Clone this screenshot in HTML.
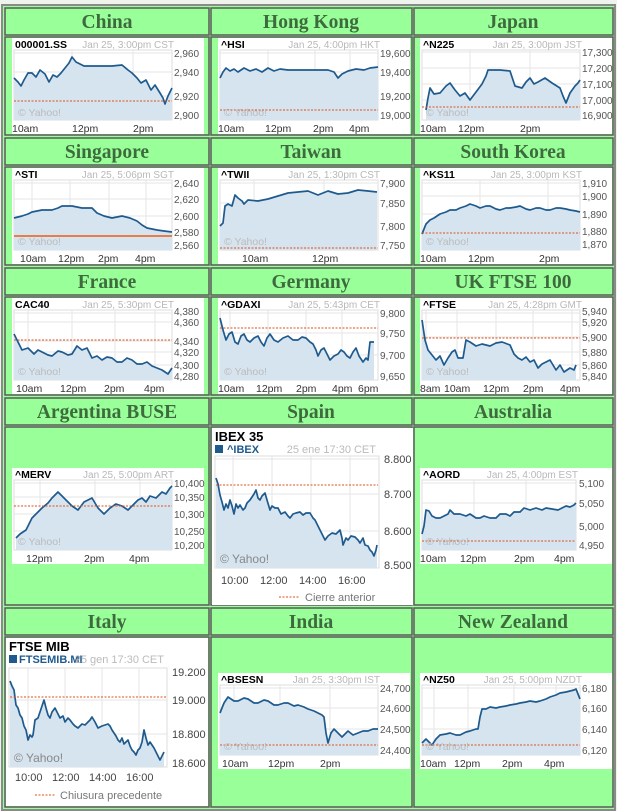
<!DOCTYPE html>
<html><head><meta charset="utf-8"><style>
html,body{margin:0;padding:0;background:#eef3ec;}
svg{display:block}
.t{font:bold 19.5px "Liberation Serif",serif;fill:#3e6b3e;text-anchor:middle}
.tk{font:bold 10.5px "Liberation Sans",sans-serif;fill:#000}
.dt{font:10px "Liberation Sans",sans-serif;fill:#b8b8b8;text-anchor:end}
.yl{font:10px "Liberation Sans",sans-serif;fill:#555}
.xl{font:10.5px "Liberation Sans",sans-serif;fill:#333}
.yh{font:10.5px "Liberation Sans",sans-serif;fill:#bbb}
.ln{fill:none;stroke:#1e5a8e;stroke-width:1.7;stroke-linejoin:round}
.ar{fill:#d6e4ef}
.gr{stroke:#e6e6e6;stroke-width:1}
.pc{stroke:#e0501a;stroke-width:1;stroke-dasharray:2,1.5}
.pcs{stroke:#f05a14;stroke-width:1.5}
</style></head><body>
<svg width="617" height="811" viewBox="0 0 617 811" xmlns="http://www.w3.org/2000/svg">
<rect x="2" y="5" width="613" height="805" fill="#99ff99" stroke="#8a8a8a" stroke-width="2"/>
<g fill="#99ff99" stroke="#5a5a5a" stroke-width="1.5">
<rect x="5" y="8" width="204" height="27"/><rect x="211" y="8" width="201" height="27"/><rect x="414" y="8" width="199" height="27"/>
<rect x="5" y="37" width="204" height="98"/><rect x="211" y="37" width="201" height="98"/><rect x="414" y="37" width="199" height="98"/>
<rect x="5" y="138" width="204" height="27"/><rect x="211" y="138" width="201" height="27"/><rect x="414" y="138" width="199" height="27"/>
<rect x="5" y="167" width="204" height="98"/><rect x="211" y="167" width="201" height="98"/><rect x="414" y="167" width="199" height="98"/>
<rect x="5" y="268" width="204" height="27"/><rect x="211" y="268" width="201" height="27"/><rect x="414" y="268" width="199" height="27"/>
<rect x="5" y="297" width="204" height="98"/><rect x="211" y="297" width="201" height="98"/><rect x="414" y="297" width="199" height="98"/>
<rect x="5" y="398" width="204" height="27"/><rect x="211" y="398" width="201" height="27"/><rect x="414" y="398" width="199" height="27"/>
<rect x="5" y="427" width="204" height="178"/><rect x="211" y="427" width="201" height="178"/><rect x="414" y="427" width="199" height="178"/>
<rect x="5" y="608" width="204" height="27"/><rect x="211" y="608" width="201" height="27"/><rect x="414" y="608" width="199" height="27"/>
<rect x="5" y="637" width="204" height="170"/><rect x="211" y="637" width="201" height="170"/><rect x="414" y="637" width="199" height="170"/>
</g>
<text class="t" x="107" y="28">China</text><text class="t" x="311" y="28">Hong Kong</text><text class="t" x="513" y="28">Japan</text>
<text class="t" x="107" y="158">Singapore</text><text class="t" x="311" y="158">Taiwan</text><text class="t" x="513" y="158">South Korea</text>
<text class="t" x="107" y="288">France</text><text class="t" x="311" y="288">Germany</text><text class="t" x="513" y="288">UK FTSE 100</text>
<text class="t" x="107" y="418">Argentina BUSE</text><text class="t" x="311" y="418">Spain</text><text class="t" x="513" y="418">Australia</text>
<text class="t" x="107" y="628">Italy</text><text class="t" x="311" y="628">India</text><text class="t" x="513" y="628">New Zealand</text>

<!-- China -->
<g transform="translate(12,38)">
<rect width="192" height="96" fill="#fff"/>
<rect x="2" y="12" width="158" height="70" fill="#fff" stroke="#ddd"/>
<line class="gr" x1="2" x2="160" y1="15" y2="15"/><line class="gr" x1="2" x2="160" y1="34" y2="34"/><line class="gr" x1="2" x2="160" y1="58" y2="58"/>
<line class="gr" x1="60" x2="60" y1="12" y2="82"/><line class="gr" x1="121" x2="121" y1="12" y2="82"/>
<polygon class="ar" points="2,40 6,44 9,48 12,42 16,35 20,35 24,39 28,32 33,36 37,44 41,37 45,39 49,35 53,30 57,25 60,19 64,24 66,25 72,28 100,28 110,27 116,32 120,35 125,40 129,45 134,42 139,52 143,47 148,55 151,60 153,66 156,58 160,50 160,82 2,82"/>
<polyline class="ln" points="2,40 6,44 9,48 12,42 16,35 20,35 24,39 28,32 33,36 37,44 41,37 45,39 49,35 53,30 57,25 60,19 64,24 66,25 72,28 100,28 110,27 116,32 120,35 125,40 129,45 134,42 139,52 143,47 148,55 151,60 153,66 156,58 160,50"/>
<line class="pc" x1="2" x2="160" y1="63" y2="63"/>
<text class="yh" x="6" y="78">© Yahoo!</text>
<text class="tk" x="3" y="10">000001.SS</text><text class="dt" x="162" y="10">Jan 25, 3:00pm CST</text>
<text class="yl" x="162" y="19">2,960</text><text class="yl" x="162" y="38">2,940</text><text class="yl" x="162" y="62">2,920</text><text class="yl" x="162" y="81">2,900</text>
<text class="xl" x="0" y="94">10am</text><text class="xl" x="60" y="94">12pm</text><text class="xl" x="121" y="94">2pm</text>
</g>

<!-- Hong Kong -->
<g transform="translate(218,38)">
<rect width="192" height="96" fill="#fff"/>
<rect x="2" y="12" width="158" height="70" fill="#fff" stroke="#ddd"/>
<line class="gr" x1="2" x2="160" y1="15" y2="15"/><line class="gr" x1="2" x2="160" y1="34" y2="34"/><line class="gr" x1="2" x2="160" y1="58" y2="58"/>
<line class="gr" x1="50" x2="50" y1="12" y2="82"/><line class="gr" x1="97" x2="97" y1="12" y2="82"/><line class="gr" x1="132" x2="132" y1="12" y2="82"/>
<polygon class="ar" points="2,40 5,34 8,30 12,33 16,31 20,34 26,30 32,33 38,31 44,34 50,30 56,33 62,31 70,32 110,32 116,34 120,40 124,36 130,33 138,31 146,32 152,30 160,29 160,82 2,82"/>
<polyline class="ln" points="2,40 5,34 8,30 12,33 16,31 20,34 26,30 32,33 38,31 44,34 50,30 56,33 62,31 70,32 110,32 116,34 120,40 124,36 130,33 138,31 146,32 152,30 160,29"/>
<line class="pc" x1="2" x2="160" y1="72" y2="72"/>
<text class="yh" x="6" y="78">© Yahoo!</text>
<text class="tk" x="3" y="10">^HSI</text><text class="dt" x="162" y="10">Jan 25, 4:00pm HKT</text>
<text class="yl" x="162" y="19">19,600</text><text class="yl" x="162" y="38">19,400</text><text class="yl" x="162" y="62">19,200</text><text class="yl" x="162" y="81">19,000</text>
<text class="xl" x="0" y="94">10am</text><text class="xl" x="47" y="94">12pm</text><text class="xl" x="95" y="94">2pm</text><text class="xl" x="131" y="94">4pm</text>
</g>

<!-- Japan -->
<g transform="translate(420,38)">
<rect width="192" height="96" fill="#fff"/>
<rect x="2" y="12" width="158" height="70" fill="#fff" stroke="#ddd"/>
<line class="gr" x1="2" x2="160" y1="14" y2="14"/><line class="gr" x1="2" x2="160" y1="30" y2="30"/><line class="gr" x1="2" x2="160" y1="46" y2="46"/><line class="gr" x1="2" x2="160" y1="62" y2="62"/>
<line class="gr" x1="50" x2="50" y1="12" y2="82"/><line class="gr" x1="110" x2="110" y1="12" y2="82"/>
<polygon class="ar" points="6,72 8,60 10,50 14,56 20,55 26,48 30,45 35,52 40,58 45,55 50,62 56,54 62,46 66,38 68,32 80,32 90,33 95,48 102,50 106,44 110,40 114,46 118,44 125,40 132,45 140,50 143,58 146,65 150,55 155,48 158,45 160,42 160,82 6,82"/>
<polyline class="ln" points="6,72 8,60 10,50 14,56 20,55 26,48 30,45 35,52 40,58 45,55 50,62 56,54 62,46 66,38 68,32 80,32 90,33 95,48 102,50 106,44 110,40 114,46 118,44 125,40 132,45 140,50 143,58 146,65 150,55 155,48 158,45 160,42"/>
<line class="pc" x1="2" x2="160" y1="69" y2="69"/>
<text class="yh" x="6" y="78">© Yahoo!</text>
<text class="tk" x="3" y="10">^N225</text><text class="dt" x="162" y="10">Jan 25, 3:00pm JST</text>
<text class="yl" x="162" y="18">17,300</text><text class="yl" x="162" y="34">17,200</text><text class="yl" x="162" y="50">17,100</text><text class="yl" x="162" y="66">17,000</text><text class="yl" x="162" y="81">16,900</text>
<text class="xl" x="0" y="94">10am</text><text class="xl" x="38" y="94">12pm</text><text class="xl" x="100" y="94">2pm</text>
</g>

<!-- Singapore -->
<g transform="translate(12,168)">
<rect width="192" height="96" fill="#fff"/>
<rect x="2" y="12" width="158" height="70" fill="#fff" stroke="#ddd"/>
<line class="gr" x1="2" x2="160" y1="15" y2="15"/><line class="gr" x1="2" x2="160" y1="31" y2="31"/><line class="gr" x1="2" x2="160" y1="48" y2="48"/><line class="gr" x1="2" x2="160" y1="64" y2="64"/>
<line class="gr" x1="20" x2="20" y1="12" y2="82"/><line class="gr" x1="58" x2="58" y1="12" y2="82"/><line class="gr" x1="97" x2="97" y1="12" y2="82"/><line class="gr" x1="134" x2="134" y1="12" y2="82"/>
<polygon class="ar" points="2,50 10,48 16,46 20,44 30,42 40,42 46,40 50,38 60,38 70,40 80,40 85,45 92,48 100,50 110,48 118,50 125,53 130,57 135,60 145,62 152,63 160,64 160,82 2,82"/>
<polyline class="ln" points="2,50 10,48 16,46 20,44 30,42 40,42 46,40 50,38 60,38 70,40 80,40 85,45 92,48 100,50 110,48 118,50 125,53 130,57 135,60 145,62 152,63 160,64"/>
<line class="pcs" x1="2" x2="160" y1="68" y2="68"/>
<text class="yh" x="6" y="77">© Yahoo!</text>
<text class="tk" x="3" y="10">^STI</text><text class="dt" x="162" y="10">Jan 25, 5:06pm SGT</text>
<text class="yl" x="162" y="19">2,640</text><text class="yl" x="162" y="35">2,620</text><text class="yl" x="162" y="52">2,600</text><text class="yl" x="162" y="68">2,580</text><text class="yl" x="162" y="81">2,560</text>
<text class="xl" x="8" y="94">10am</text><text class="xl" x="46" y="94">12pm</text><text class="xl" x="86" y="94">2pm</text><text class="xl" x="123" y="94">4pm</text>
</g>

<!-- Taiwan -->
<g transform="translate(218,168)">
<rect width="192" height="96" fill="#fff"/>
<rect x="2" y="12" width="158" height="70" fill="#fff" stroke="#ddd"/>
<line class="gr" x1="2" x2="160" y1="15" y2="15"/><line class="gr" x1="2" x2="160" y1="35" y2="35"/><line class="gr" x1="2" x2="160" y1="58" y2="58"/>
<line class="gr" x1="36" x2="36" y1="12" y2="82"/><line class="gr" x1="106" x2="106" y1="12" y2="82"/>
<polygon class="ar" points="2,58 5,55 7,38 10,36 14,38 17,27 20,30 24,33 26,36 30,32 40,33 50,31 60,28 70,25 80,24 90,23 100,27 110,23 120,26 130,25 140,22 150,23 159,24 159,82 2,82"/>
<polyline class="ln" points="2,58 5,55 7,38 10,36 14,38 17,27 20,30 24,33 26,36 30,32 40,33 50,31 60,28 70,25 80,24 90,23 100,27 110,23 120,26 130,25 140,22 150,23 159,24"/>
<line class="pc" x1="2" x2="160" y1="80" y2="80"/>
<text class="yh" x="6" y="77">© Yahoo!</text>
<text class="tk" x="3" y="10">^TWII</text><text class="dt" x="162" y="10">Jan 25, 1:30pm CST</text>
<text class="yl" x="162" y="19">7,900</text><text class="yl" x="162" y="39">7,850</text><text class="yl" x="162" y="62">7,800</text><text class="yl" x="162" y="81">7,750</text>
<text class="xl" x="24" y="94">10am</text><text class="xl" x="94" y="94">12pm</text>
</g>

<!-- South Korea -->
<g transform="translate(420,168)">
<rect width="192" height="96" fill="#fff"/>
<rect x="2" y="12" width="158" height="70" fill="#fff" stroke="#ddd"/>
<line class="gr" x1="2" x2="160" y1="15" y2="15"/><line class="gr" x1="2" x2="160" y1="28" y2="28"/><line class="gr" x1="2" x2="160" y1="46" y2="46"/><line class="gr" x1="2" x2="160" y1="63" y2="63"/>
<line class="gr" x1="60" x2="60" y1="12" y2="82"/><line class="gr" x1="128" x2="128" y1="12" y2="82"/>
<polygon class="ar" points="2,66 6,56 10,52 14,50 20,46 26,44 30,42 36,42 40,40 46,38 50,36 56,38 60,40 66,38 70,38 76,41 80,42 86,40 90,40 96,39 100,38 106,41 110,42 116,40 120,40 126,42 130,42 136,40 140,40 146,41 150,42 156,43 160,44 160,82 2,82"/>
<polyline class="ln" points="2,66 6,56 10,52 14,50 20,46 26,44 30,42 36,42 40,40 46,38 50,36 56,38 60,40 66,38 70,38 76,41 80,42 86,40 90,40 96,39 100,38 106,41 110,42 116,40 120,40 126,42 130,42 136,40 140,40 146,41 150,42 156,43 160,44"/>
<line class="pc" x1="2" x2="160" y1="65" y2="65"/>
<text class="yh" x="6" y="77">© Yahoo!</text>
<text class="tk" x="3" y="10">^KS11</text><text class="dt" x="162" y="10">Jan 25, 3:00pm KST</text>
<text class="yl" x="162" y="19">1,910</text><text class="yl" x="162" y="32">1,900</text><text class="yl" x="162" y="50">1,890</text><text class="yl" x="162" y="67">1,880</text><text class="yl" x="162" y="80">1,870</text>
<text class="xl" x="0" y="94">10am</text><text class="xl" x="48" y="94">12pm</text><text class="xl" x="119" y="94">2pm</text>
</g>

<!-- France -->
<g transform="translate(12,298)">
<rect width="192" height="96" fill="#fff"/>
<rect x="2" y="12" width="158" height="70" fill="#fff" stroke="#ddd"/>
<line class="gr" x1="2" x2="160" y1="15" y2="15"/><line class="gr" x1="2" x2="160" y1="24" y2="24"/><line class="gr" x1="2" x2="160" y1="43" y2="43"/><line class="gr" x1="2" x2="160" y1="54" y2="54"/><line class="gr" x1="2" x2="160" y1="67" y2="67"/>
<line class="gr" x1="16" x2="16" y1="12" y2="82"/><line class="gr" x1="60" x2="60" y1="12" y2="82"/><line class="gr" x1="103" x2="103" y1="12" y2="82"/><line class="gr" x1="143" x2="143" y1="12" y2="82"/>
<polygon class="ar" points="2,36 6,44 10,52 16,50 22,56 26,52 30,54 36,57 40,58 46,53 50,54 56,57 60,56 65,48 70,52 75,50 80,60 85,58 90,62 95,59 100,60 105,64 110,64 115,60 120,62 125,66 130,66 135,64 140,68 145,70 150,72 156,76 160,70 160,82 2,82"/>
<polyline class="ln" points="2,36 6,44 10,52 16,50 22,56 26,52 30,54 36,57 40,58 46,53 50,54 56,57 60,56 65,48 70,52 75,50 80,60 85,58 90,62 95,59 100,60 105,64 110,64 115,60 120,62 125,66 130,66 135,64 140,68 145,70 150,72 156,76 160,70"/>
<line class="pc" x1="2" x2="160" y1="42" y2="42"/>
<text class="yh" x="6" y="77">© Yahoo!</text>
<text class="tk" x="3" y="10">CAC40</text><text class="dt" x="162" y="10">Jan 25, 5:30pm CET</text>
<text class="yl" x="162" y="17">4,380</text><text class="yl" x="162" y="28">4,360</text><text class="yl" x="162" y="47">4,340</text><text class="yl" x="162" y="58">4,320</text><text class="yl" x="162" y="71">4,300</text><text class="yl" x="162" y="82">4,280</text>
<text class="xl" x="4" y="94">10am</text><text class="xl" x="48" y="94">12pm</text><text class="xl" x="92" y="94">2pm</text><text class="xl" x="132" y="94">4pm</text>
</g>

<!-- Germany -->
<g transform="translate(218,298)">
<rect width="192" height="96" fill="#fff"/>
<rect x="2" y="12" width="158" height="70" fill="#fff" stroke="#ddd"/>
<line class="gr" x1="2" x2="160" y1="15" y2="15"/><line class="gr" x1="2" x2="160" y1="35" y2="35"/><line class="gr" x1="2" x2="160" y1="57" y2="57"/>
<line class="gr" x1="12" x2="12" y1="12" y2="82"/><line class="gr" x1="50" x2="50" y1="12" y2="82"/><line class="gr" x1="88" x2="88" y1="12" y2="82"/><line class="gr" x1="124" x2="124" y1="12" y2="82"/>
<polygon class="ar" points="2,20 5,32 8,42 11,36 14,34 17,44 20,46 23,38 26,36 29,42 32,44 36,40 40,38 43,44 46,48 49,40 52,36 56,42 60,44 65,40 70,38 75,42 80,42 84,39 88,40 92,44 95,46 98,52 100,58 103,52 106,50 109,56 112,62 116,58 120,56 123,52 126,54 129,58 132,60 135,54 138,50 141,58 145,64 148,60 150,62 152,44 156,44 156,82 2,82"/>
<polyline class="ln" points="2,20 5,32 8,42 11,36 14,34 17,44 20,46 23,38 26,36 29,42 32,44 36,40 40,38 43,44 46,48 49,40 52,36 56,42 60,44 65,40 70,38 75,42 80,42 84,39 88,40 92,44 95,46 98,52 100,58 103,52 106,50 109,56 112,62 116,58 120,56 123,52 126,54 129,58 132,60 135,54 138,50 141,58 145,64 148,60 150,62 152,44 156,44"/>
<line class="pc" x1="2" x2="160" y1="30" y2="30"/>
<text class="yh" x="6" y="77">© Yahoo!</text>
<text class="tk" x="3" y="10">^GDAXI</text><text class="dt" x="162" y="10">Jan 25, 5:43pm CET</text>
<text class="yl" x="162" y="19">9,800</text><text class="yl" x="162" y="39">9,750</text><text class="yl" x="162" y="61">9,700</text><text class="yl" x="162" y="82">9,650</text>
<text class="xl" x="0" y="94">10am</text><text class="xl" x="38" y="94">12pm</text><text class="xl" x="78" y="94">2pm</text><text class="xl" x="114" y="94">4pm</text><text class="xl" x="140" y="94">6pm</text>
</g>

<!-- UK -->
<g transform="translate(420,298)">
<rect width="192" height="96" fill="#fff"/>
<rect x="2" y="12" width="158" height="70" fill="#fff" stroke="#ddd"/>
<line class="gr" x1="2" x2="160" y1="15" y2="15"/><line class="gr" x1="2" x2="160" y1="24" y2="24"/><line class="gr" x1="2" x2="160" y1="39" y2="39"/><line class="gr" x1="2" x2="160" y1="54" y2="54"/><line class="gr" x1="2" x2="160" y1="67" y2="67"/>
<line class="gr" x1="6" x2="6" y1="12" y2="82"/><line class="gr" x1="37" x2="37" y1="12" y2="82"/><line class="gr" x1="76" x2="76" y1="12" y2="82"/><line class="gr" x1="113" x2="113" y1="12" y2="82"/><line class="gr" x1="152" x2="152" y1="12" y2="82"/>
<polygon class="ar" points="2,22 5,42 8,52 12,57 16,62 20,58 24,67 28,60 32,54 35,52 38,60 43,60 46,42 50,44 56,48 62,46 70,48 76,45 82,44 90,47 94,56 98,60 102,62 106,59 110,64 114,62 118,70 122,66 130,62 136,72 140,67 144,74 150,70 154,72 156,67 156,82 2,82"/>
<polyline class="ln" points="2,22 5,42 8,52 12,57 16,62 20,58 24,67 28,60 32,54 35,52 38,60 43,60 46,42 50,44 56,48 62,46 70,48 76,45 82,44 90,47 94,56 98,60 102,62 106,59 110,64 114,62 118,70 122,66 130,62 136,72 140,67 144,74 150,70 154,72 156,67"/>
<line class="pc" x1="2" x2="160" y1="40" y2="40"/>
<text class="yh" x="6" y="77">© Yahoo!</text>
<text class="tk" x="3" y="10">^FTSE</text><text class="dt" x="162" y="10">Jan 25, 4:28pm GMT</text>
<text class="yl" x="162" y="17">5,940</text><text class="yl" x="162" y="28">5,920</text><text class="yl" x="162" y="43">5,900</text><text class="yl" x="162" y="58">5,880</text><text class="yl" x="162" y="71">5,860</text><text class="yl" x="162" y="82">5,840</text>
<text class="xl" x="0" y="94">8am</text><text class="xl" x="24" y="94">10am</text><text class="xl" x="63" y="94">12pm</text><text class="xl" x="103" y="94">2pm</text><text class="xl" x="140" y="94">4pm</text>
</g>

<!-- Argentina -->
<g transform="translate(12,468)">
<rect width="192" height="96" fill="#fff"/>
<rect x="2" y="12" width="158" height="70" fill="#fff" stroke="#ddd"/>
<line class="gr" x1="2" x2="160" y1="15" y2="15"/><line class="gr" x1="2" x2="160" y1="29" y2="29"/><line class="gr" x1="2" x2="160" y1="46" y2="46"/><line class="gr" x1="2" x2="160" y1="63" y2="63"/>
<line class="gr" x1="28" x2="28" y1="12" y2="82"/><line class="gr" x1="83" x2="83" y1="12" y2="82"/><line class="gr" x1="128" x2="128" y1="12" y2="82"/>
<polygon class="ar" points="4,70 8,66 14,62 20,50 26,44 30,40 36,35 40,30 46,24 52,30 56,34 60,38 66,42 72,34 76,32 80,30 86,40 92,46 98,40 104,36 110,38 116,42 122,36 126,32 130,30 134,34 138,28 144,30 150,24 154,26 158,20 160,18 160,82 4,82"/>
<polyline class="ln" points="4,70 8,66 14,62 20,50 26,44 30,40 36,35 40,30 46,24 52,30 56,34 60,38 66,42 72,34 76,32 80,30 86,40 92,46 98,40 104,36 110,38 116,42 122,36 126,32 130,30 134,34 138,28 144,30 150,24 154,26 158,20 160,18"/>
<line class="pc" x1="2" x2="160" y1="38" y2="38"/>
<text class="yh" x="6" y="77">© Yahoo!</text>
<text class="tk" x="3" y="10">^MERV</text><text class="dt" x="162" y="10">Jan 25, 5:00pm ART</text>
<text class="yl" x="162" y="19">10,400</text><text class="yl" x="162" y="33">10,350</text><text class="yl" x="162" y="50">10,300</text><text class="yl" x="162" y="67">10,250</text><text class="yl" x="162" y="81">10,200</text>
<text class="xl" x="14" y="94">12pm</text><text class="xl" x="72" y="94">2pm</text><text class="xl" x="117" y="94">4pm</text>
</g>

<!-- Australia -->
<g transform="translate(420,468)">
<rect width="192" height="96" fill="#fff"/>
<rect x="2" y="12" width="154" height="70" fill="#fff" stroke="#ddd"/>
<line class="gr" x1="2" x2="156" y1="15" y2="15"/><line class="gr" x1="2" x2="156" y1="35" y2="35"/><line class="gr" x1="2" x2="156" y1="58" y2="58"/>
<line class="gr" x1="54" x2="54" y1="12" y2="82"/><line class="gr" x1="106" x2="106" y1="12" y2="82"/>
<polygon class="ar" points="2,66 4,58 6,42 9,43 12,48 16,50 20,50 24,48 28,46 30,42 34,46 40,46 46,48 50,46 56,50 60,50 64,48 70,50 76,50 80,46 86,46 90,48 94,44 100,44 104,40 110,42 116,40 122,42 126,40 132,41 138,42 142,40 146,38 150,39 154,37 156,35 156,82 2,82"/>
<polyline class="ln" points="2,66 4,58 6,42 9,43 12,48 16,50 20,50 24,48 28,46 30,42 34,46 40,46 46,48 50,46 56,50 60,50 64,48 70,50 76,50 80,46 86,46 90,48 94,44 100,44 104,40 110,42 116,40 122,42 126,40 132,41 138,42 142,40 146,38 150,39 154,37 156,35"/>
<line class="pc" x1="2" x2="156" y1="73" y2="73"/>
<text class="yh" x="6" y="77">© Yahoo!</text>
<text class="tk" x="3" y="10">^AORD</text><text class="dt" x="158" y="10">Jan 25, 4:00pm EST</text>
<text class="yl" x="159" y="19">5,100</text><text class="yl" x="159" y="39">5,050</text><text class="yl" x="159" y="62">5,000</text><text class="yl" x="159" y="81">4,950</text>
<text class="xl" x="0" y="94">10am</text><text class="xl" x="40" y="94">12pm</text><text class="xl" x="94" y="94">2pm</text><text class="xl" x="134" y="94">4pm</text>
</g>

<!-- India -->
<g transform="translate(218,673)">
<rect width="192" height="96" fill="#fff"/>
<rect x="2" y="12" width="158" height="70" fill="#fff" stroke="#ddd"/>
<line class="gr" x1="2" x2="160" y1="15" y2="15"/><line class="gr" x1="2" x2="160" y1="35" y2="35"/><line class="gr" x1="2" x2="160" y1="56" y2="56"/>
<line class="gr" x1="16" x2="16" y1="12" y2="82"/><line class="gr" x1="62" x2="62" y1="12" y2="82"/><line class="gr" x1="112" x2="112" y1="12" y2="82"/>
<polygon class="ar" points="2,40 6,30 10,24 16,28 20,28 26,25 30,26 36,30 40,30 46,27 50,28 56,32 60,32 66,30 70,30 76,33 80,32 86,34 90,36 96,38 100,40 104,42 106,44 108,60 110,70 113,60 116,56 120,60 124,64 128,60 130,58 135,62 140,60 145,58 150,58 155,56 160,56 160,82 2,82"/>
<polyline class="ln" points="2,40 6,30 10,24 16,28 20,28 26,25 30,26 36,30 40,30 46,27 50,28 56,32 60,32 66,30 70,30 76,33 80,32 86,34 90,36 96,38 100,40 104,42 106,44 108,60 110,70 113,60 116,56 120,60 124,64 128,60 130,58 135,62 140,60 145,58 150,58 155,56 160,56"/>
<line class="pc" x1="2" x2="160" y1="72" y2="72"/>
<text class="yh" x="6" y="77">© Yahoo!</text>
<text class="tk" x="3" y="10">^BSESN</text><text class="dt" x="162" y="10">Jan 25, 3:30pm IST</text>
<text class="yl" x="162" y="19">24,700</text><text class="yl" x="162" y="39">24,600</text><text class="yl" x="162" y="60">24,500</text><text class="yl" x="162" y="81">24,400</text>
<text class="xl" x="4" y="94">10am</text><text class="xl" x="50" y="94">12pm</text><text class="xl" x="102" y="94">2pm</text>
</g>

<!-- New Zealand -->
<g transform="translate(420,673)">
<rect width="192" height="96" fill="#fff"/>
<rect x="2" y="12" width="158" height="70" fill="#fff" stroke="#ddd"/>
<line class="gr" x1="2" x2="160" y1="15" y2="15"/><line class="gr" x1="2" x2="160" y1="35" y2="35"/><line class="gr" x1="2" x2="160" y1="56" y2="56"/>
<line class="gr" x1="14" x2="14" y1="12" y2="82"/><line class="gr" x1="48" x2="48" y1="12" y2="82"/><line class="gr" x1="94" x2="94" y1="12" y2="82"/><line class="gr" x1="136" x2="136" y1="12" y2="82"/>
<polygon class="ar" points="2,70 6,66 12,72 16,66 20,62 26,61 30,60 36,62 40,62 46,59 50,58 56,56 58,56 60,44 62,36 66,36 70,34 76,35 80,34 86,33 90,32 96,31 100,30 106,29 110,28 116,29 120,28 126,26 130,24 136,22 140,20 146,19 150,18 154,17 156,16 160,26 160,82 2,82"/>
<polyline class="ln" points="2,70 6,66 12,72 16,66 20,62 26,61 30,60 36,62 40,62 46,59 50,58 56,56 58,56 60,44 62,36 66,36 70,34 76,35 80,34 86,33 90,32 96,31 100,30 106,29 110,28 116,29 120,28 126,26 130,24 136,22 140,20 146,19 150,18 154,17 156,16 160,26"/>
<line class="pc" x1="2" x2="160" y1="72" y2="72"/>
<text class="yh" x="6" y="77">© Yahoo!</text>
<text class="tk" x="3" y="10">^NZ50</text><text class="dt" x="162" y="10">Jan 25, 5:00pm NZDT</text>
<text class="yl" x="162" y="19">6,180</text><text class="yl" x="162" y="39">6,160</text><text class="yl" x="162" y="60">6,140</text><text class="yl" x="162" y="81">6,120</text>
<text class="xl" x="0" y="94">10am</text><text class="xl" x="34" y="94">12pm</text><text class="xl" x="82" y="94">2pm</text><text class="xl" x="124" y="94">4pm</text>
</g>

<!-- Spain big -->
<rect x="212" y="428" width="201" height="177" fill="#fff"/>
<rect x="215" y="456" width="164" height="112" fill="#fff" stroke="#ddd"/>
<line class="gr" x1="215" x2="379" y1="459" y2="459"/><line class="gr" x1="215" x2="379" y1="494" y2="494"/><line class="gr" x1="215" x2="379" y1="531" y2="531"/>
<line class="gr" x1="233" x2="233" y1="456" y2="568"/><line class="gr" x1="272" x2="272" y1="456" y2="568"/><line class="gr" x1="311" x2="311" y1="456" y2="568"/><line class="gr" x1="350" x2="350" y1="456" y2="568"/>
<polygon class="ar" points="216,478 218,484 220,495 222,502 224,510 226,504 228,508 230,500 232,506 234,514 236,504 238,508 240,505 243,510 245,508 247,503 250,500 252,497 254,494 256,490 258,498 260,500 262,496 265,493 267,500 270,510 272,506 275,508 278,508 281,514 285,512 288,516 290,518 293,514 296,513 300,512 303,515 306,513 310,513 313,518 315,520 318,526 320,530 322,534 325,540 328,536 332,533 336,534 340,530 342,538 343,545 346,538 348,540 351,536 355,537 358,540 360,543 363,538 365,545 368,546 370,550 372,552 374,556 376,550 377,545 377,568 216,568"/>
<polyline class="ln" points="216,478 218,484 220,495 222,502 224,510 226,504 228,508 230,500 232,506 234,514 236,504 238,508 240,505 243,510 245,508 247,503 250,500 252,497 254,494 256,490 258,498 260,500 262,496 265,493 267,500 270,510 272,506 275,508 278,508 281,514 285,512 288,516 290,518 293,514 296,513 300,512 303,515 306,513 310,513 313,518 315,520 318,526 320,530 322,534 325,540 328,536 332,533 336,534 340,530 342,538 343,545 346,538 348,540 351,536 355,537 358,540 360,543 363,538 365,545 368,546 370,550 372,552 374,556 376,550 377,545"/>
<line class="pc" x1="216" x2="378" y1="485" y2="485"/>
<text x="220" y="563" style="font:12px 'Liberation Sans',sans-serif;fill:#888">© Yahoo!</text>
<text x="215" y="441" style="font:bold 13px 'Liberation Sans',sans-serif;fill:#000">IBEX 35</text>
<rect x="215" y="445" width="8" height="8" fill="#1e5a8e"/>
<text x="227" y="453" style="font:bold 11px 'Liberation Sans',sans-serif;fill:#1e5a8e">^IBEX</text>
<text x="376" y="453" text-anchor="end" style="font:11px 'Liberation Sans',sans-serif;fill:#bbb">25 ene 17:30 CET</text>
<g style="font:11px 'Liberation Sans',sans-serif;fill:#444">
<text x="384" y="463">8.800</text><text x="384" y="498">8.700</text><text x="384" y="535">8.600</text><text x="384" y="569">8.500</text>
<text x="221" y="584">10:00</text><text x="260" y="584">12:00</text><text x="299" y="584">14:00</text><text x="338" y="584">16:00</text>
</g>
<line class="pc" x1="279" x2="300" y1="597" y2="597"/>
<text x="305" y="601" style="font:11px 'Liberation Sans',sans-serif;fill:#777">Cierre anterior</text>

<!-- Italy big -->
<rect x="6" y="638" width="202" height="168" fill="#fff"/>
<rect x="9" y="668" width="158" height="99" fill="#fff" stroke="#ddd"/>
<line class="gr" x1="9" x2="167" y1="700" y2="700"/><line class="gr" x1="9" x2="167" y1="734" y2="734"/>
<line class="gr" x1="28" x2="28" y1="668" y2="767"/><line class="gr" x1="65" x2="65" y1="668" y2="767"/><line class="gr" x1="102" x2="102" y1="668" y2="767"/><line class="gr" x1="139" x2="139" y1="668" y2="767"/>
<polygon class="ar" points="10,681 12,686 14,690 16,705 18,708 20,715 22,718 24,726 26,730 28,740 30,735 32,737 33,735 35,720 38,718 40,712 42,706 44,700 46,708 48,715 50,718 52,712 55,708 58,714 60,718 63,716 65,722 68,718 70,720 73,724 75,726 78,728 80,726 82,724 85,725 88,722 90,720 92,717 95,722 98,728 100,727 102,726 105,725 108,724 110,726 112,730 114,733 116,736 118,740 120,742 122,738 124,744 126,742 128,740 130,746 132,750 134,752 136,755 138,750 140,748 142,742 144,730 146,738 148,745 150,742 152,745 154,748 156,752 158,756 160,760 162,756 164,752 164,767 10,767"/>
<polyline class="ln" points="10,681 12,686 14,690 16,705 18,708 20,715 22,718 24,726 26,730 28,740 30,735 32,737 33,735 35,720 38,718 40,712 42,706 44,700 46,708 48,715 50,718 52,712 55,708 58,714 60,718 63,716 65,722 68,718 70,720 73,724 75,726 78,728 80,726 82,724 85,725 88,722 90,720 92,717 95,722 98,728 100,727 102,726 105,725 108,724 110,726 112,730 114,733 116,736 118,740 120,742 122,738 124,744 126,742 128,740 130,746 132,750 134,752 136,755 138,750 140,748 142,742 144,730 146,738 148,745 150,742 152,745 154,748 156,752 158,756 160,760 162,756 164,752"/>
<line class="pc" x1="10" x2="166" y1="697" y2="697"/>
<text x="14" y="762" style="font:12px 'Liberation Sans',sans-serif;fill:#888">© Yahoo!</text>
<text x="9" y="651" style="font:bold 13px 'Liberation Sans',sans-serif;fill:#000">FTSE MIB</text>
<rect x="9" y="655" width="8" height="8" fill="#1e5a8e"/>
<text x="19" y="663" style="font:bold 11px 'Liberation Sans',sans-serif;fill:#1e5a8e">FTSEMIB.MI</text>
<text x="164" y="663" text-anchor="end" style="font:11px 'Liberation Sans',sans-serif;fill:#bbb">25 gen 17:30 CET</text>
<g style="font:11px 'Liberation Sans',sans-serif;fill:#444">
<text x="172" y="676">19.200</text><text x="172" y="704">19.000</text><text x="172" y="738">18.800</text><text x="172" y="767">18.600</text>
<text x="15" y="781">10:00</text><text x="52" y="781">12:00</text><text x="89" y="781">14:00</text><text x="126" y="781">16:00</text>
</g>
<line class="pc" x1="35" x2="56" y1="795" y2="795"/>
<text x="60" y="799" style="font:11px 'Liberation Sans',sans-serif;fill:#777">Chiusura precedente</text>
</svg>
</body></html>
